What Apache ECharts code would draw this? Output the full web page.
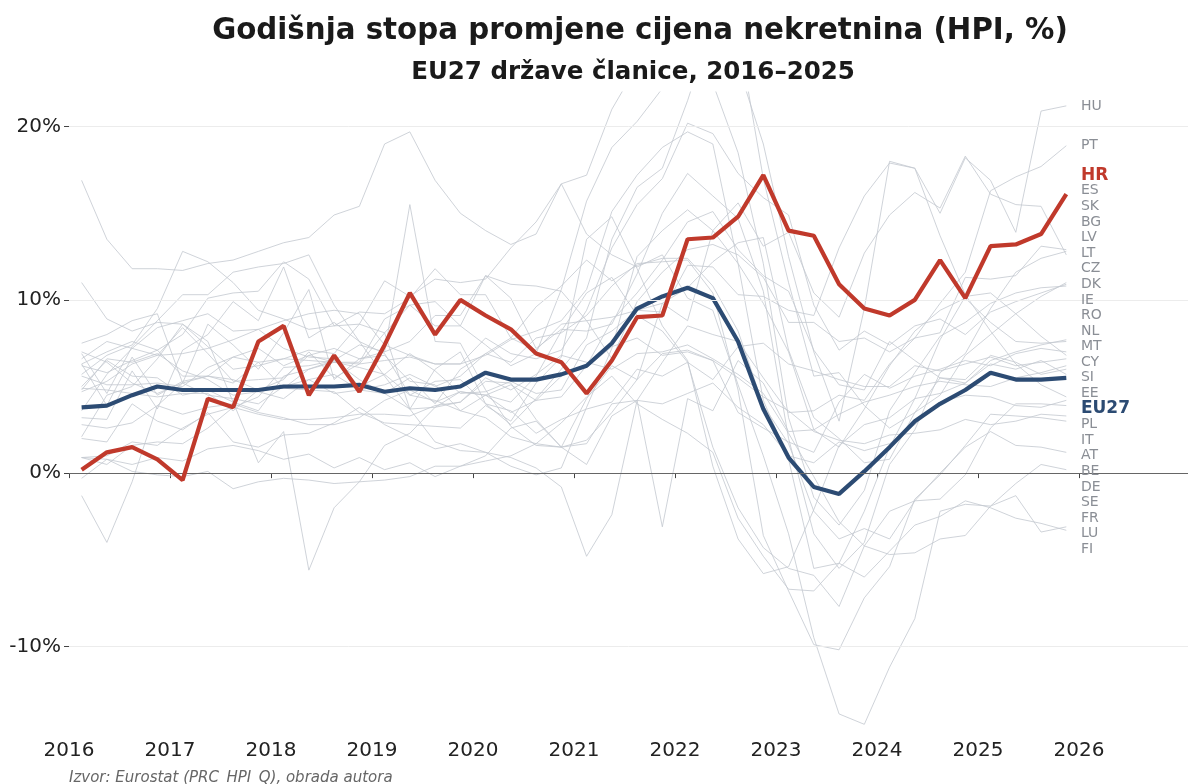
<!DOCTYPE html>
<html>
<head>
<meta charset="utf-8">
<script src="https://cdn.jsdelivr.net/npm/echarts@6/dist/echarts.min.js"></script>
<style>
  html, body { margin: 0; padding: 0; background: #fff; }
  #chart { width: 1188px; height: 784px; }
</style>
</head>
<body>
<div id="chart"></div>
<script>
// quarters 2016Q1 .. 2025Q4
var quarters = [];
for (var yr = 2016; yr <= 2025; yr++) {
    for (var q = 1; q <= 4; q++) quarters.push(yr + 'Q' + q);
}

var hr = [0.2, 1.2, 1.5, 0.8, -0.4, 4.3, 3.8, 7.6, 8.5, 4.5, 6.8, 4.7, 7.4, 10.4, 8.0, 10.0,
    9.1, 8.3, 6.9, 6.4, 4.6, 6.5, 9.0, 9.1, 13.5, 13.6, 14.8, 17.2, 14.0, 13.7, 10.9, 9.5,
    9.1, 10.0, 12.3, 10.1, 13.1, 13.2, 13.8, 16.1];

var eu27 = [3.8, 3.9, 4.5, 5.0, 4.8, 4.8, 4.8, 4.8, 5.0, 5.0, 5.0, 5.1, 4.7, 4.9, 4.8, 5.0,
    5.8, 5.4, 5.4, 5.7, 6.2, 7.5, 9.5, 10.2, 10.7, 10.1, 7.6, 3.7, 0.9, -0.8, -1.2, 0.1,
    1.5, 3.0, 4.0, 4.8, 5.8, 5.4, 5.4, 5.5];

var hu = [16.9, 13.5, 11.8, 11.8, 11.7, 12.1, 12.3, 12.8, 13.3, 13.6, 14.9, 15.4, 19.0, 19.7, 16.9, 15.0,
    14.0, 13.2, 13.8, 16.7, 17.2, 21.0, 23.5, 25.0, 26.5, 25.0, 23.5, 19.0, 12.5, 7.0, 3.0, 9.5,
    18.0, 17.6, 15.0, 18.2, 16.9, 13.9, 20.9, 21.2];
var pt = [6.3, 7.0, 7.6, 7.1, 8.0, 10.1, 10.4, 10.5, 12.2, 11.2, 8.5, 9.3, 9.2, 10.1, 11.8, 10.3,
    10.3, 7.8, 7.1, 8.6, 8.8, 6.6, 9.9, 11.6, 12.9, 13.2, 12.6, 11.3, 8.7, 8.7, 7.6, 7.8,
    7.0, 7.8, 9.8, 11.6, 16.3, 17.1, 17.7, 18.9];
var es = [6.3, 3.9, 6.7, 4.5, 5.3, 5.6, 6.7, 7.2, 6.2, 6.8, 7.2, 6.6, 6.8, 5.3, 5.1, 3.6,
    3.2, 2.1, 1.7, 1.5, 0.5, 3.3, 4.2, 6.4, 8.5, 8.0, 7.6, 5.5, 3.5, 3.6, 4.5, 4.2,
    6.3, 7.8, 8.1, 11.3, 11.2, 11.4, 13.1, 12.9];
var sk = [3.6, 5.7, 7.2, 6.8, 8.4, 6.9, 5.3, 5.4, 5.5, 6.8, 6.4, 6.4, 8.9, 9.7, 8.5, 8.5,
    11.4, 10.1, 7.2, 8.3, 8.2, 8.6, 11.5, 15.0, 17.3, 16.0, 14.7, 10.5, 2.0, -3.5, -5.5, -4.0,
    0.5, 2.5, 5.8, 6.9, 9.5, 11.6, 12.4, 12.8];
var bg = [6.6, 7.6, 7.2, 8.4, 8.8, 9.2, 8.2, 8.3, 7.2, 6.7, 6.6, 5.0, 5.7, 6.9, 5.9, 4.6,
    4.7, 5.3, 4.6, 4.8, 7.4, 8.2, 9.4, 9.8, 8.8, 14.0, 15.6, 13.1, 13.9, 10.4, 9.0, 12.7,
    14.9, 16.2, 15.3, 18.3, 16.1, 15.5, 15.4, 12.6];
var lv = [-1.3, -4.0, -0.5, 3.9, 5.2, 8.6, 7.4, 6.0, 8.1, 10.6, 5.4, 6.6, 7.0, 15.5, 7.6, 7.5,
    4.8, 2.7, 1.6, 1.5, 4.3, 6.2, 5.4, 9.8, 10.7, 12.2, 13.3, 13.6, 7.1, 3.2, 2.0, 0.6,
    0.8, 3.5, 4.5, 6.8, 8.0, 9.2, 10.2, 11.0];
var lt = [2.1, 4.5, 5.0, 6.6, 8.6, 7.3, 6.0, 6.2, 6.6, 6.5, 6.4, 6.3, 6.5, 6.7, 6.3, 6.3,
    7.8, 6.9, 6.6, 7.1, 9.4, 13.0, 15.5, 17.0, 20.2, 19.6, 17.3, 15.9, 14.9, 9.7, 7.1, 8.2,
    7.4, 8.5, 8.9, 8.0, 9.3, 9.9, 10.4, 10.9];
var cz = [5.7, 6.8, 7.4, 9.5, 12.8, 12.2, 11.0, 9.4, 8.9, 8.3, 8.5, 8.6, 8.1, 9.7, 9.9, 8.5,
    7.4, 6.2, 6.9, 10.6, 15.7, 18.8, 20.3, 22.2, 24.6, 22.5, 18.5, 12.1, 3.2, -1.4, -3.0, -1.0,
    3.6, 5.8, 7.9, 8.7, 9.8, 10.4, 10.7, 10.8];
var dk = [4.9, 4.8, 4.6, 4.4, 4.6, 4.6, 3.6, 4.8, 4.9, 4.8, 4.7, 3.5, 2.9, 2.8, 2.7, 2.6,
    3.9, 3.0, 5.2, 6.7, 13.5, 14.8, 11.8, 8.5, 6.5, 0.4, -3.8, -5.8, -5.4, -2.1, 1.6, 2.8,
    3.2, 4.3, 4.6, 5.2, 6.5, 7.0, 7.4, 7.7];
var ie = [6.9, 4.6, 7.3, 8.8, 10.3, 10.3, 11.6, 11.9, 12.1, 12.6, 9.7, 7.6, 5.6, 3.7, 1.8, 1.3,
    1.2, 0.4, -0.1, 0.3, 3.8, 7.2, 12.5, 14.0, 15.2, 14.0, 12.1, 9.8, 7.0, 2.5, 1.5, 3.7,
    6.2, 8.2, 9.4, 10.1, 8.7, 7.6, 7.5, 7.6];
var ro = [5.6, 5.1, 5.1, 5.2, 5.0, 6.1, 6.7, 6.4, 4.9, 6.0, 6.5, 5.4, 4.6, 3.7, 3.8, 4.1,
    5.3, 5.2, 3.1, 1.5, 1.9, 3.5, 5.4, 6.9, 7.1, 6.5, 3.5, 2.6, 1.8, 1.2, 4.1, 5.7,
    4.9, 5.6, 6.0, 6.5, 6.2, 6.9, 7.2, 7.0];
var nl = [4.7, 5.3, 6.3, 6.8, 6.9, 7.2, 7.7, 8.3, 8.8, 9.2, 9.4, 9.2, 7.4, 6.8, 6.3, 6.3,
    6.8, 7.7, 8.2, 8.8, 10.6, 15.1, 17.2, 18.8, 19.7, 19.0, 12.1, 4.2, 0.8, -5.5, -5.2, -2.2,
    1.5, 4.3, 7.7, 10.2, 10.4, 9.2, 7.9, 6.8];
var mt = [5.0, 6.5, 5.6, 5.5, 4.5, 4.8, 4.1, 3.6, 5.6, 6.0, 6.4, 6.1, 5.7, 4.5, 5.3, 5.4,
    4.0, 3.6, 2.3, 3.1, 3.7, 4.1, 6.0, 5.6, 6.4, 5.4, 7.3, 7.5, 6.3, 5.9, 5.4, 5.0,
    5.0, 6.2, 5.9, 6.3, 6.7, 6.2, 6.4, 6.6];
var cy = [2.0, 1.8, 4.0, 3.0, 2.5, 3.5, 1.8, 1.5, 2.2, 2.3, 2.9, 3.8, 2.8, 2.1, 1.4, 1.7,
    1.2, 0.9, 0.3, -0.8, -4.8, -2.4, 4.2, -3.1, 4.3, 3.6, 6.5, 5.2, 2.4, 2.5, 3.4, 4.1,
    4.5, 5.0, 5.3, 5.1, 5.0, 5.5, 5.8, 6.2];
var si = [3.2, 3.1, 5.9, 3.7, 7.1, 8.0, 9.9, 8.8, 11.9, 7.8, 8.7, 7.6, 6.9, 4.5, 4.2, 3.6,
    4.5, 5.1, 4.2, 4.4, 6.2, 8.8, 10.4, 12.3, 14.5, 15.1, 12.9, 11.4, 10.5, 7.1, 5.1, 4.8,
    7.6, 6.5, 5.5, 5.4, 6.8, 6.4, 5.7, 6.0];
var ee = [7.0, 6.4, 5.2, 4.6, 5.2, 5.6, 5.4, 4.8, 5.4, 7.0, 5.5, 6.3, 8.1, 3.7, 6.0, 7.0,
    4.0, 2.8, 4.3, 6.0, 7.8, 13.5, 16.5, 17.6, 21.5, 26.0, 25.5, 17.0, 11.0, 5.6, 5.8, 3.9,
    2.6, 3.5, 5.5, 5.2, 6.3, 6.0, 6.5, 5.7];
var pl = [0.9, 0.5, 1.6, 1.8, 1.7, 2.6, 3.8, 4.4, 6.1, 6.2, 6.5, 7.4, 7.0, 7.6, 9.1, 9.1,
    11.4, 10.9, 10.8, 10.5, 8.8, 9.0, 9.4, 9.3, 12.0, 11.9, 10.3, 10.2, 9.4, 9.1, 13.0, 16.0,
    17.9, 17.6, 13.7, 10.3, 8.2, 6.3, 5.1, 4.4];
var it = [-0.3, 0.8, 0.1, -0.1, -0.2, 0.1, -0.9, -0.5, -0.3, -0.4, -0.6, -0.5, -0.4, -0.2, 0.4, 0.4,
    1.0, 2.6, 3.0, 1.5, 1.7, 4.0, 4.2, 4.0, 4.6, 5.2, 3.8, 2.8, 1.0, 0.6, 1.8, 1.3,
    1.7, 2.8, 4.1, 4.5, 4.4, 3.9, 3.8, 4.2];
var at = [7.5, 8.0, 8.8, 9.2, 5.2, 4.5, 4.3, 4.0, 5.0, 5.4, 4.6, 4.8, 4.6, 5.5, 4.0, 6.0,
    6.9, 7.8, 9.6, 10.8, 12.3, 11.1, 12.0, 12.4, 12.4, 10.8, 8.2, 3.9, 1.7, -2.2, -3.8, -3.2,
    -3.8, -1.6, -1.5, -0.1, 2.6, 4.0, 4.0, 3.9];
var be = [2.8, 2.6, 2.9, 3.9, 3.4, 3.8, 4.0, 3.5, 3.2, 2.8, 2.8, 3.2, 4.2, 4.8, 4.1, 4.7,
    4.5, 3.5, 4.2, 5.6, 6.1, 7.3, 7.8, 6.8, 7.0, 6.5, 5.5, 4.4, 3.6, 2.4, 1.9, 1.7,
    2.2, 2.3, 2.5, 3.1, 2.8, 3.0, 3.4, 3.3];
var de = [4.8, 6.6, 6.4, 6.9, 5.9, 5.4, 4.5, 4.7, 4.3, 5.4, 5.7, 4.8, 5.1, 5.7, 5.0, 5.6,
    6.9, 6.4, 7.8, 8.1, 9.1, 10.8, 12.1, 12.2, 12.3, 10.4, 4.8, -3.6, -6.8, -9.9, -10.2, -7.2,
    -5.4, -1.5, -0.1, 1.6, 3.4, 3.3, 3.2, 3.0];
var se = [11.0, 8.9, 8.2, 8.7, 8.6, 7.6, 4.1, 0.6, 2.4, -5.6, -2.0, -0.5, 1.6, 2.3, 3.8, 4.7,
    4.5, 4.1, 5.6, 8.2, 10.4, 11.3, 9.1, 8.2, 6.4, 1.5, -2.0, -4.3, -5.5, -5.9, -7.7, -4.2,
    -2.2, -1.6, 0.0, 1.5, 2.4, 1.6, 1.5, 1.2];
var fr = [0.9, 1.0, 1.8, 1.6, 2.6, 3.4, 3.8, 3.4, 3.1, 3.1, 3.2, 3.4, 3.4, 3.3, 3.9, 4.1,
    5.5, 4.8, 5.7, 6.8, 6.4, 6.0, 6.9, 7.0, 7.4, 6.6, 5.7, 4.6, 2.3, -0.2, -2.8, -4.2,
    -4.7, -4.6, -3.8, -3.6, -1.9, -0.6, 0.5, 0.2];
var lu = [6.2, 5.8, 6.5, 7.1, 5.6, 5.6, 5.2, 6.4, 6.6, 7.1, 6.9, 8.6, 11.1, 10.2, 11.2, 11.0,
    11.2, 13.0, 14.5, 16.7, 13.8, 12.6, 11.9, 12.6, 10.1, 9.4, 5.1, 1.0, -3.5, -9.5, -13.9, -14.5,
    -11.2, -8.4, -2.2, -1.8, -1.9, -1.3, -3.4, -3.1];
var fi = [0.9, 0.8, 0.5, 0.9, 0.7, 1.4, 1.6, 1.3, 0.8, 1.1, 0.3, 0.9, 0.2, 0.6, -0.2, 0.4,
    0.7, 1.0, 1.7, 2.9, 4.4, 5.6, 4.0, 3.1, 2.3, 1.2, -2.6, -4.8, -6.7, -6.8, -5.2, -6.0,
    -4.5, -3.0, -2.5, -1.6, -2.0, -2.6, -2.9, -3.3];

var countryNames = ['HU', 'PT', 'ES', 'SK', 'BG', 'LV', 'LT', 'CZ', 'DK', 'IE', 'RO', 'NL', 'MT',
    'CY', 'SI', 'EE', 'PL', 'IT', 'AT', 'BE', 'DE', 'SE', 'FR', 'LU', 'FI'];
var countryValues = [hu, pt, es, sk, bg, lv, lt, cz, dk, ie, ro, nl, mt,
    cy, si, ee, pl, it, at, be, de, se, fr, lu, fi];

var yTicks = [-10, 0, 10, 20];
var xTicks = [2016, 2017, 2018, 2019, 2020, 2021, 2022, 2023, 2024, 2025, 2026];

var FONT = 'DejaVu Sans';
var RED = '#c0392b';
var BLUE = '#2c4b73';
var GREY = '#c4c8d0';

function qPos(label) {
    return parseInt(label.slice(0, 4), 10) + (parseInt(label.slice(5), 10) - 1) * 0.25 + 0.125;
}
function toPairs(vals) {
    return vals.map(function (v, i) { return [qPos(quarters[i]), v]; });
}

// right-hand labels: sorted by last value, pushed apart where they collide
function layoutLabels(items, gap) {
    items.sort(function (a, b) { return b.last - a.last; });
    var clusters = items.map(function (it) { return [it]; });
    function top(c) {
        var m = c.reduce(function (s, it) { return s + it.last; }, 0) / c.length;
        return m + gap * (c.length - 1) / 2;
    }
    var merged = true;
    while (merged) {
        merged = false;
        for (var i = 0; i < clusters.length - 1; i++) {
            var a = clusters[i], b = clusters[i + 1];
            var bottomA = top(a) - gap * (a.length - 1);
            if (bottomA - top(b) < gap) {
                clusters.splice(i, 2, a.concat(b));
                merged = true;
                break;
            }
        }
    }
    clusters.forEach(function (c) {
        var t = top(c);
        c.forEach(function (it, k) { it.pos = t - gap * k; });
    });
    return items;
}

var labelItems = countryNames.map(function (n, i) {
    return { name: n, last: countryValues[i][countryValues[i].length - 1], kind: 'grey' };
});
labelItems.push({ name: 'HR', last: hr[hr.length - 1], kind: 'hr' });
labelItems.push({ name: 'EU27', last: eu27[eu27.length - 1], kind: 'eu' });
layoutLabels(labelItems, 0.9);

var series = countryNames.map(function (n, i) {
    return {
        name: n,
        type: 'line',
        data: toPairs(countryValues[i]),
        symbol: 'none',
        lineStyle: { color: GREY, width: 0.9, opacity: 0.9 },
        silent: true,
        z: 2
    };
});

series[0].markLine = {
    silent: true,
    symbol: 'none',
    label: { show: false },
    data: yTicks.map(function (t) {
        return {
            yAxis: t,
            lineStyle: t === 0 ? { color: '#666', width: 1.2, type: 'solid' }
                               : { color: '#ececec', width: 1, type: 'solid' }
        };
    })
};

series.push({
    name: 'EU27', type: 'line', data: toPairs(eu27), symbol: 'none',
    lineStyle: { color: BLUE, width: 4.2 }, z: 4
});
series.push({
    name: 'HR', type: 'line', data: toPairs(hr), symbol: 'none',
    lineStyle: { color: RED, width: 4.2 }, z: 5
});
series.push({
    type: 'scatter',
    symbolSize: 0,
    silent: true,
    z: 6,
    itemStyle: { opacity: 1 },
    data: labelItems.map(function (it) {
        var st = it.kind === 'hr' ? { color: RED, fontSize: 17, fontWeight: 'bold' }
               : it.kind === 'eu' ? { color: BLUE, fontSize: 17, fontWeight: 'bold' }
               : { color: '#8a8e95', fontSize: 14, fontWeight: 'normal' };
        return {
            value: [2026, it.pos],
            name: it.name,
            label: Object.assign({ show: true, position: 'right', distance: 2, opacity: 1,
                formatter: it.name, fontFamily: FONT }, st)
        };
    })
});

var option = {
    backgroundColor: '#ffffff',
    animation: false,
    title: [
        { text: 'Godišnja stopa promjene cijena nekretnina (HPI, %)', left: 635, top: 12, textAlign: 'center',
          textStyle: { fontFamily: FONT, fontSize: 29.3, fontWeight: 'bold', color: '#1a1a1a' } },
        { text: 'EU27 države članice, 2016–2025', left: 628, top: 55, textAlign: 'center',
          textStyle: { fontFamily: FONT, fontSize: 24.5, fontWeight: 'bold', color: '#1a1a1a' } }
    ],
    grid: { left: 69, right: 0, top: 92, bottom: 51, containLabel: false },
    xAxis: {
        type: 'value', min: 2016, max: 2027.08,
        axisLine: { show: true, lineStyle: { color: '#444', width: 1.2 } },
        axisTick: { show: true, length: 5, customValues: xTicks, lineStyle: { color: '#444' } },
        axisLabel: { customValues: xTicks, fontFamily: FONT, fontSize: 20, color: '#222', margin: 8,
            formatter: function (v) { return String(v); } },
        splitLine: { show: false }
    },
    yAxis: {
        type: 'value', min: -15, max: 22,
        axisLine: { show: false },
        axisTick: { show: true, length: 5, customValues: yTicks, lineStyle: { color: '#444' } },
        axisLabel: { customValues: yTicks, fontFamily: FONT, fontSize: 20, color: '#222', margin: 8,
            formatter: function (v) { return v + '%'; } },
        splitLine: { show: false }
    },
    graphic: [{
        type: 'text', left: 69, top: 771,
        style: { text: 'Izvor: Eurostat (PRC_HPI_Q), obrada autora', fontFamily: FONT, fontSize: 15,
            fontStyle: 'italic', fill: '#666' }
    }],
    series: series
};

var myChart = echarts.init(document.getElementById('chart'));
myChart.setOption(option);
</script>
</body>
</html>
